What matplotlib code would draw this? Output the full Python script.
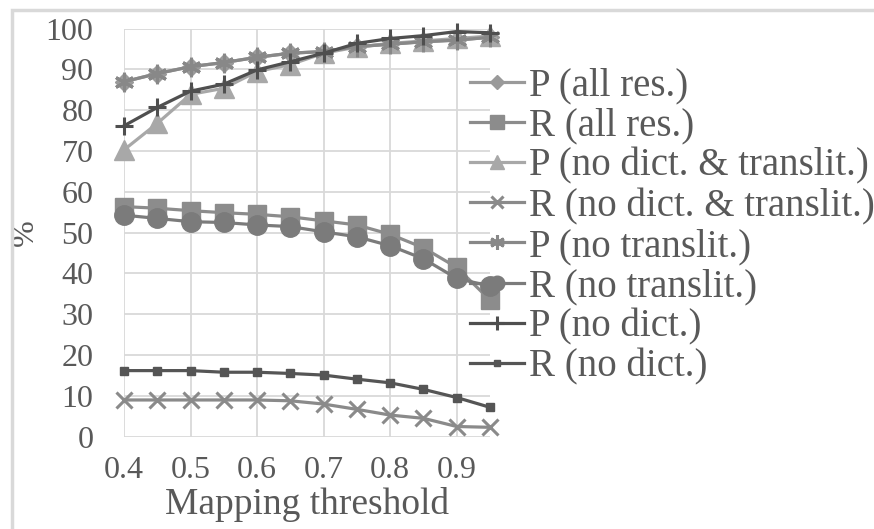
import matplotlib
matplotlib.use("Agg")
import matplotlib.pyplot as plt
from matplotlib.patches import Rectangle
from matplotlib.font_manager import FontProperties, findfont

plt.rcParams['font.family'] = 'serif'
plt.rcParams['font.serif'] = ['Liberation Serif', 'DejaVu Serif']

SERIF_FILE = findfont(FontProperties(family='Liberation Serif'))
GREY_TXT = '#595959'


def serif(size):
    return FontProperties(fname=SERIF_FILE, size=size)


# mapping thresholds
thresholds = [0.4, 0.45, 0.5, 0.55, 0.6, 0.65, 0.7, 0.75, 0.8, 0.85, 0.9, 0.95]
xtick_labels = ['0.4', '0.5', '0.6', '0.7', '0.8', '0.9']
ytick_labels = ['0', '10', '20', '30', '40', '50', '60', '70', '80', '90', '100']

p_all = [87.0, 89.0, 90.7, 91.7, 93.0, 94.0, 94.4, 95.6, 96.2, 96.8, 97.2, 97.9]
r_all = [56.4, 56.0, 55.4, 54.9, 54.5, 53.9, 52.9, 51.9, 49.6, 46.3, 41.5, 33.5]
p_no_dict_translit = [70.3, 76.8, 83.9, 85.4, 89.5, 91.2, 94.0, 95.5, 96.4, 97.0, 97.6, 98.2]
r_no_dict_translit = [9.0, 9.0, 9.0, 9.0, 9.0, 8.8, 8.0, 6.7, 5.3, 4.5, 2.5, 2.3]
p_no_translit = [87.0, 89.0, 90.7, 91.7, 93.0, 94.0, 94.4, 95.6, 96.2, 96.8, 97.2, 97.9]
r_no_translit = [54.3, 53.5, 52.7, 52.5, 51.9, 51.5, 50.2, 49.0, 46.8, 43.6, 38.8, 36.9]
p_no_dict = [76.2, 80.7, 84.7, 86.4, 89.9, 91.9, 94.0, 96.4, 97.6, 98.3, 99.3, 99.0]
r_no_dict = [16.2, 16.2, 16.2, 15.8, 15.8, 15.5, 15.1, 14.1, 13.2, 11.6, 9.6, 7.2]

labels = ['P (all res.)', 'R (all res.)', 'P (no dict. & translit.)',
          'R (no dict. & translit.)', 'P (no translit.)', 'R (no translit.)',
          'P (no dict.)', 'R (no dict.)']
series = [p_all, r_all, p_no_dict_translit, r_no_dict_translit,
          p_no_translit, r_no_translit, p_no_dict, r_no_dict]
styles = [
    dict(color='#9a9a9a', marker='D', ms=9),
    dict(color='#8c8c8c', marker='s', ms=13),
    dict(color='#a8a8a8', marker='^', ms=14),
    dict(color='#8a8a8a', marker='x', ms=12, mew=2.2),
    dict(color='#888888', marker=(6, 2, 0), ms=14, mew=2.2),
    dict(color='#7b7b7b', marker='o', ms=14),
    dict(color='#4f4f4f', marker='+', ms=13, mew=2.2),
    dict(color='#555555', marker='s', ms=5.5),
]

fig = plt.figure(figsize=(8.74, 5.29), dpi=100)
ax = fig.add_axes([124/874, 1 - 436.7/529, (490 - 124)/874, (436.7 - 28.7)/529])

for vals, lab, st in zip(series, labels, styles):
    ax.plot(thresholds, vals, label=lab, lw=2.3, clip_on=False, **st)

ax.set_xlim(0.4, 0.95)
ax.set_ylim(0, 100)
ax.set_xticks([float(t) for t in xtick_labels])
ax.set_xticklabels(xtick_labels, fontproperties=serif(23), color=GREY_TXT)
ax.set_yticks([int(t) for t in ytick_labels])
ax.set_yticklabels(ytick_labels, fontproperties=serif(23), color=GREY_TXT)
ax.grid(True, color='#d9d9d9', lw=1.3)
ax.set_axisbelow(True)
for s in ax.spines.values():
    s.set_visible(False)
ax.tick_params(length=0)
ax.tick_params(axis='y', pad=22)
ax.tick_params(axis='x', pad=14)

ax.set_xlabel('Mapping threshold', fontproperties=serif(27), color=GREY_TXT, labelpad=1)
ax.set_ylabel('%', fontproperties=serif(23), color=GREY_TXT, labelpad=4)

leg = ax.legend(loc='center left', bbox_to_anchor=(470/874, 1 - 226.5/529),
                bbox_transform=fig.transFigure, frameon=False, prop=serif(28),
                handlelength=1.4, handletextpad=0.12, labelspacing=0.08,
                borderpad=0, borderaxespad=0, markerscale=0.75)
for t in leg.get_texts():
    t.set_color(GREY_TXT)

# chart area border
fig.patches.append(Rectangle((12/874, -0.1), 1.2, 1.1 - 10/529, transform=fig.transFigure,
                             fill=False, ec='#d9d9d9', lw=2.5))

fig.savefig('out.png', dpi=100)
